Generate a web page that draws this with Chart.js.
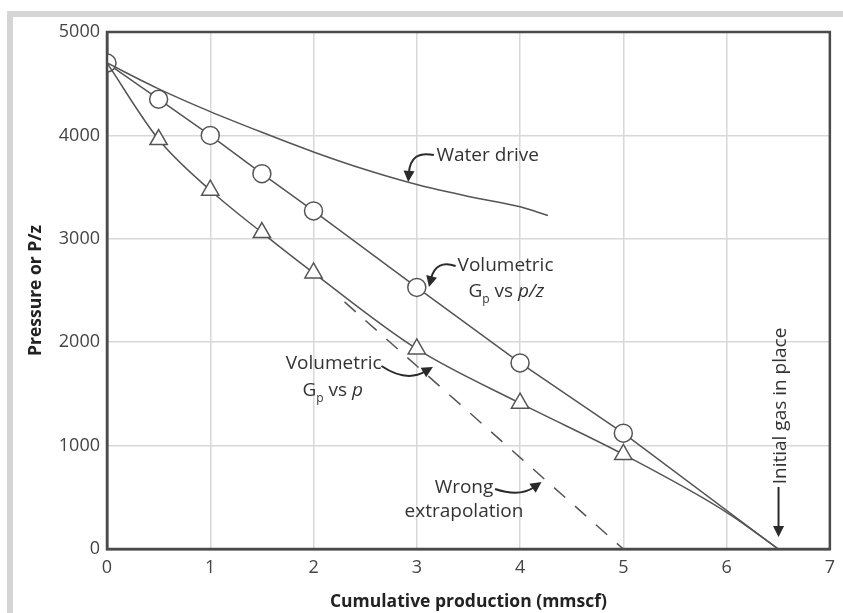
<!DOCTYPE html>
<html><head><meta charset="utf-8">
<script src="https://cdn.jsdelivr.net/npm/chart.js@4.4.1/dist/chart.umd.min.js"></script>
<style>
html,body{margin:0;padding:0;background:#fff;}
#frame{position:absolute;left:7px;top:11px;width:836px;height:602px;border-top:6px solid #d5d5d5;border-left:6px solid #d5d5d5;box-sizing:border-box;background:#fff;}
#wrap{position:absolute;left:0;top:0;width:843px;height:613px;}
</style></head><body>
<div id="frame"></div>
<div id="wrap"><canvas id="c" width="843" height="613"></canvas></div>
<script>
// ---- data ----
const xTickValues = [0, 1, 2, 3, 4, 5, 6, 7];
const yTickValues = [0, 1000, 2000, 3000, 4000, 5000];

// Volumetric Gp vs p/z (circles), straight line to initial gas in place
const pzX = [0, 0.5, 1, 1.5, 2, 3, 4, 5, 6.5];
const pzY = [4700, 4350, 4000, 3630, 3270, 2530, 1800, 1120, 0];
const pzMarked = [1, 1, 1, 1, 1, 1, 1, 1, 0];

// Volumetric Gp vs p (triangles)
const pX = [0, 0.5, 1, 1.5, 2, 3, 4, 5, 6, 6.5];
const pY = [4700, 3960, 3470, 3060, 2670, 1935, 1410, 915, 355, 0];
const pMarked = [0, 1, 1, 1, 1, 1, 1, 1, 0, 0];

// Water drive
const waterX = [0, 0.5, 1, 1.5, 2, 2.5, 3, 3.5, 4, 4.27];
const waterY = [4700, 4450, 4230, 4030, 3840, 3670, 3525, 3410, 3310, 3225];

// Wrong extrapolation (dashed)
const wrongX = [2.3, 5];
const wrongY = [2390, 0];

const pts = (xs, ys) => xs.map((x, i) => ({x: x, y: ys[i]}));
const LINE = '#555';
const TXT = '#333';
const FONT = '"Open Sans", "Noto Sans", sans-serif';

// annotation texts (positions in data units)
const notes = [
  {parts: [{t: 'Water drive'}], x: 3.19, y: 3800, align: 'left'},
  {parts: [{t: 'Volumetric'}], x: 3.395, y: 2737, align: 'left'},
  {parts: [{t: 'G'}, {t: 'p', sub: true}, {t: ' vs '}, {t: 'p/z', it: true}], x: 3.50, y: 2485, align: 'left'},
  {parts: [{t: 'Volumetric'}], x: 1.731, y: 1789, align: 'left'},
  {parts: [{t: 'G'}, {t: 'p', sub: true}, {t: ' vs '}, {t: 'p', it: true}], x: 1.893, y: 1528, align: 'left'},
  {parts: [{t: 'Wrong'}], x: 3.457, y: 590, align: 'center'},
  {parts: [{t: 'extrapolation'}], x: 3.457, y: 358, align: 'center'},
  {parts: [{t: 'Initial gas in place'}], x: 6.522, y: 1383, align: 'center', rot: true}
];
// curved arrows: start, control, end (data units)
const arrows = [
  [[3.165, 3810], [2.94, 3859], [2.917, 3550]],
  [[3.376, 2737], [3.184, 2800], [3.118, 2534]],
  [[2.658, 1770], [2.898, 1610], [3.156, 1760]],
  [[3.758, 580], [3.997, 500], [4.208, 648]],
  [[6.503, 600], [6.503, 350], [6.503, 116]]
];

const annot = {
  id: 'annot',
  afterDatasetsDraw(chart) {
    const ctx = chart.ctx, xs = chart.scales.x, ys = chart.scales.y;
    const X = v => xs.getPixelForValue(v), Y = v => ys.getPixelForValue(v);
    ctx.save();
    // frame
    const a = chart.chartArea;
    ctx.strokeStyle = '#4a4a4a';
    ctx.lineWidth = 2.5;
    ctx.strokeRect(a.left, a.top, a.right - a.left, a.bottom - a.top);
    // texts
    ctx.fillStyle = TXT;
    ctx.textBaseline = 'middle';
    notes.forEach(n => {
      const fontFor = p => (p.it ? 'italic ' : '') + (p.sub ? '12px ' : '19px ') + FONT;
      let w = 0;
      n.parts.forEach(p => { ctx.font = fontFor(p); w += ctx.measureText(p.t).width; });
      ctx.save();
      ctx.translate(X(n.x), Y(n.y));
      if (n.rot) ctx.rotate(-Math.PI / 2);
      let cx = n.align === 'center' ? -w / 2 : 0;
      ctx.textAlign = 'left';
      n.parts.forEach(p => {
        ctx.font = fontFor(p);
        ctx.fillText(p.t, cx, p.sub ? 8 : 0);
        cx += ctx.measureText(p.t).width;
      });
      ctx.restore();
    });
    // arrows
    ctx.strokeStyle = '#2a2a2a';
    ctx.fillStyle = '#2a2a2a';
    ctx.lineWidth = 2;
    arrows.forEach(ar => {
      const s = [X(ar[0][0]), Y(ar[0][1])], c = [X(ar[1][0]), Y(ar[1][1])], e = [X(ar[2][0]), Y(ar[2][1])];
      const ang = Math.atan2(e[1] - c[1], e[0] - c[0]);
      const L = 11, H = 5.5;
      const bx = e[0] - Math.cos(ang) * L * 0.8, by = e[1] - Math.sin(ang) * L * 0.8;
      ctx.beginPath();
      ctx.moveTo(s[0], s[1]);
      ctx.quadraticCurveTo(c[0], c[1], bx, by);
      ctx.stroke();
      ctx.beginPath();
      ctx.moveTo(e[0], e[1]);
      ctx.lineTo(e[0] - Math.cos(ang) * L - Math.sin(ang) * H, e[1] - Math.sin(ang) * L + Math.cos(ang) * H);
      ctx.lineTo(e[0] - Math.cos(ang) * L + Math.sin(ang) * H, e[1] - Math.sin(ang) * L - Math.cos(ang) * H);
      ctx.closePath();
      ctx.fill();
    });
    ctx.restore();
  }
};

new Chart(document.getElementById('c'), {
  type: 'scatter',
  data: {
    datasets: [
      {data: pts(waterX, waterY), showLine: true, borderColor: LINE, borderWidth: 1.5, pointRadius: 0, cubicInterpolationMode: 'monotone', clip: 0},
      {data: pts(wrongX, wrongY), showLine: true, borderColor: LINE, borderWidth: 1.5, borderDash: [15, 13], pointRadius: 0, clip: 0},
      {data: pts(pX, pY), showLine: true, borderColor: LINE, borderWidth: 1.5, cubicInterpolationMode: 'monotone',
        pointStyle: 'triangle', pointRadius: pMarked.map(m => m ? 10 : 0), pointBackgroundColor: '#fff', pointBorderColor: LINE, pointBorderWidth: 1.5, clip: 0},
      {data: pts(pzX, pzY), showLine: true, borderColor: LINE, borderWidth: 1.5, tension: 0,
        pointStyle: 'circle', pointRadius: pzMarked.map(m => m ? 9 : 0), pointBackgroundColor: '#fff', pointBorderColor: LINE, pointBorderWidth: 1.5, clip: 0}
    ]
  },
  options: {
    responsive: false,
    animation: false,
    devicePixelRatio: 1,
    layout: {padding: {top: 32, right: 4, left: 0, bottom: 0}},
    plugins: {legend: {display: false}, tooltip: {enabled: false}},
    scales: {
      x: {
        type: 'linear', min: 0, max: 7,
        afterBuildTicks: s => { s.ticks = xTickValues.map(v => ({value: v})); },
        afterFit: s => { s.height = 64; },
        grid: {color: '#d8d8d8', lineWidth: 1.5, drawTicks: false},
        border: {color: '#4a4a4a', width: 2.5},
        ticks: {color: '#444', font: {family: FONT, size: 18}, padding: 8, maxRotation: 0, callback: v => String(v)},
        title: {display: true, text: 'Cumulative production (mmscf)', color: '#222', font: {family: FONT, size: 17.5, weight: 'bold'}, padding: {top: 4, bottom: 0}}
      },
      y: {
        type: 'linear', min: 0, max: 5000,
        afterBuildTicks: s => { s.ticks = yTickValues.map(v => ({value: v})); },
        afterFit: s => { s.width = 107; },
        grid: {color: '#d8d8d8', lineWidth: 1.5, drawTicks: false},
        border: {color: '#4a4a4a', width: 2.5},
        ticks: {color: '#444', font: {family: FONT, size: 18}, padding: 7, callback: v => String(v)},
        title: {display: true, text: 'Pressure or P/z', color: '#222', font: {family: FONT, size: 17.5, weight: 'bold'}, padding: {top: 26, bottom: 0}}
      }
    }
  },
  plugins: [annot]
});
</script>
</body></html>
